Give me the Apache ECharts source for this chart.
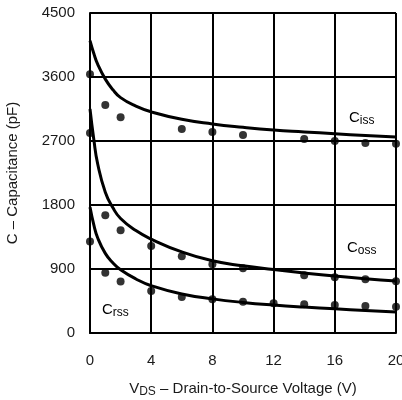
<!DOCTYPE html>
<html>
<head>
<meta charset="utf-8">
<script src="https://cdn.jsdelivr.net/npm/echarts@6/dist/echarts.min.js"></script>
<style>
  html, body { margin: 0; padding: 0; background: #fff; }
  #chart { width: 402px; height: 400px; }
</style>
</head>
<body>
<div id="chart"></div>
<script>
// curve samples (V, pF)
const vCurve = [0, 0.25, 0.5, 1, 1.5, 2, 3, 4, 6, 8, 10, 12, 14, 16, 18, 20]
const cissCurve = [4110, 3930, 3780, 3570, 3420, 3310, 3190, 3110, 3005, 2940, 2893, 2855, 2828, 2802, 2778, 2757]
const cossCurve = [3150, 2720, 2380, 1980, 1760, 1610, 1440, 1320, 1140, 1015, 945, 893, 845, 800, 762, 730]
const crssCurve = [1770, 1520, 1340, 1120, 985, 890, 760, 665, 548, 480, 430, 393, 364, 340, 317, 296]

// measured points
const vCiss = [0, 1, 2, 6, 8, 10, 14, 16, 18, 20]
const cissDots = [3640, 3205, 3035, 2870, 2827, 2785, 2729, 2701, 2673, 2660]
const vCoss = [0, 1, 2, 4, 6, 8, 10, 14, 16, 18, 20]
const cossDots = [2813, 1656, 1446, 1222, 1078, 966, 910, 812, 784, 756, 728]
const vCrss = [0, 1, 2, 4, 6, 8, 10, 12, 14, 16, 18, 20]
const crssDots = [1288, 849, 723, 592, 508, 476, 440, 420, 406, 392, 380, 370]

const FONT = 'Liberation Sans, Arial, sans-serif'
const pairs = (xs, ys) => xs.map((x, i) => [x, ys[i]])

const chart = echarts.init(document.getElementById('chart'))

const curve = (name, data) => ({
  name,
  type: 'line',
  data,
  smooth: 0.5,
  showSymbol: false,
  lineStyle: { color: '#000', width: 3 },
  silent: true,
  z: 3
})

const dots = (name, data) => ({
  name,
  type: 'scatter',
  data,
  symbol: 'circle',
  symbolSize: 8,
  itemStyle: { color: '#000' },
  silent: true,
  z: 4
})

const gridLine = { show: true, lineStyle: { color: '#000', width: 2 } }

const subLabel = (main, sub) => ({
  type: 'text',
  style: {
    text: '{c|' + main + '}{s|' + sub + '}',
    rich: {
      c: { fontFamily: FONT, fontSize: 15, color: '#1a1a1a' },
      s: { fontFamily: FONT, fontSize: 12, color: '#1a1a1a', padding: [7, 0, 0, 0] }
    }
  }
})

chart.setOption({
  animation: false,
  grid: { left: 90, right: 6, top: 13, bottom: 67, outerBoundsMode: 'none', containLabel: false },
  xAxis: {
    type: 'value',
    min: 0,
    max: 20,
    interval: 4,
    name: '{v|V}{s|DS}{v| – Drain-to-Source Voltage (V)}',
    nameLocation: 'middle',
    nameGap: 46,
    nameTextStyle: {
      rich: {
        v: { fontFamily: FONT, fontSize: 15, color: '#1a1a1a' },
        s: { fontFamily: FONT, fontSize: 12, color: '#1a1a1a', padding: [7, 0, 0, 0] }
      }
    },
    axisLine: { lineStyle: { color: '#000', width: 2 } },
    axisTick: { show: false },
    axisLabel: { fontFamily: FONT, fontSize: 15, color: '#1a1a1a', margin: 20 },
    splitLine: gridLine
  },
  yAxis: {
    type: 'value',
    min: 0,
    max: 4500,
    interval: 900,
    name: 'C – Capacitance (pF)',
    nameLocation: 'middle',
    nameGap: 70,
    nameTextStyle: { fontFamily: FONT, fontSize: 15, color: '#1a1a1a' },
    axisLine: { lineStyle: { color: '#000', width: 2 } },
    axisTick: { show: false },
    axisLabel: { fontFamily: FONT, fontSize: 15, color: '#1a1a1a', margin: 15, formatter: v => String(v) },
    splitLine: gridLine
  },
  graphic: [
    { ...subLabel('C', 'iss'), left: 349, top: 110 },
    { ...subLabel('C', 'oss'), left: 347, top: 240 },
    { ...subLabel('C', 'rss'), left: 102, top: 302 }
  ],
  series: [
    curve('Ciss', pairs(vCurve, cissCurve)),
    curve('Coss', pairs(vCurve, cossCurve)),
    curve('Crss', pairs(vCurve, crssCurve)),
    dots('Ciss meas', pairs(vCiss, cissDots)),
    dots('Coss meas', pairs(vCoss, cossDots)),
    dots('Crss meas', pairs(vCrss, crssDots))
  ]
})
</script>
</body>
</html>
